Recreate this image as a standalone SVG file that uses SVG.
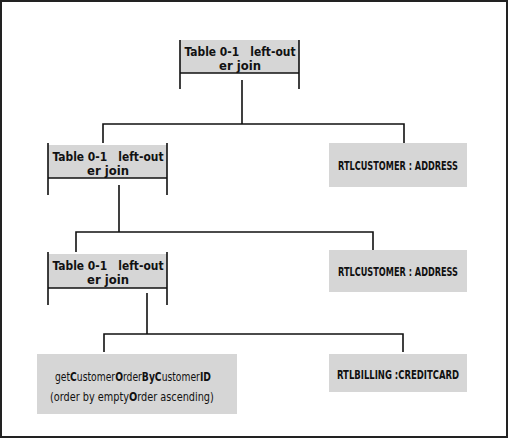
<svg xmlns="http://www.w3.org/2000/svg" width="508" height="438" viewBox="0 0 508 438">
<style>
.box{fill:#d6d6d6;stroke:none}
.ln{stroke:#111;stroke-width:1.6;fill:none}
.t{font-family:"DejaVu Sans","Liberation Sans",sans-serif;font-stretch:condensed;font-size:12px;font-weight:bold;fill:#111;text-anchor:middle}
.n{font-family:"DejaVu Sans","Liberation Sans",sans-serif;font-stretch:condensed;font-size:11.5px;fill:#111}
.b{font-weight:bold}
</style>
<rect x="1" y="1" width="506" height="436" fill="#fff" stroke="#222" stroke-width="2"/>
<g id="connectors">
<path class="ln" d="M242 80V124M103 143V124H404V143"/>
<path class="ln" d="M119 185V232M76 252V232H373V250"/>
<path class="ln" d="M147 293V334M104 352V334H403V352"/>
</g>
<g id="join1">
<rect class="box" x="180" y="40" width="119" height="33"/>
<path class="ln" d="M180 40V89M299 40V89M180 73H299"/>
<text class="t" x="240" y="56" xml:space="preserve" textLength="111" lengthAdjust="spacingAndGlyphs">Table 0-1   left-out</text>
<text class="t" x="240" y="70" textLength="42" lengthAdjust="spacingAndGlyphs">er join</text>
</g>
<g id="join2">
<rect class="box" x="48" y="145" width="119" height="33"/>
<path class="ln" d="M48 143V195M167 143V195M48 178H167"/>
<text class="t" x="108" y="161" xml:space="preserve" textLength="111" lengthAdjust="spacingAndGlyphs">Table 0-1   left-out</text>
<text class="t" x="108" y="175" textLength="42" lengthAdjust="spacingAndGlyphs">er join</text>
</g>
<g id="join3">
<rect class="box" x="48" y="254" width="119" height="34"/>
<path class="ln" d="M48 252V305M167 252V305M48 288H167"/>
<text class="t" x="108" y="270" xml:space="preserve" textLength="111" lengthAdjust="spacingAndGlyphs">Table 0-1   left-out</text>
<text class="t" x="108" y="284" textLength="42" lengthAdjust="spacingAndGlyphs">er join</text>
</g>
<g id="address1">
<rect class="box" x="329" y="143" width="138" height="44"/>
<text class="t" x="398" y="170" textLength="120" lengthAdjust="spacingAndGlyphs">RTLCUSTOMER : ADDRESS</text>
</g>
<g id="address2">
<rect class="box" x="329" y="250" width="138" height="42"/>
<text class="t" x="398" y="276" textLength="120" lengthAdjust="spacingAndGlyphs">RTLCUSTOMER : ADDRESS</text>
</g>
<g id="getorder">
<rect class="box" x="37" y="354" width="200" height="60"/>
<text class="n" transform="translate(55,381) scale(0.89,1)">get<tspan class="b">C</tspan>ustomer<tspan class="b">O</tspan>rder<tspan class="b">ByC</tspan>ustomer<tspan class="b">ID</tspan></text>
<text class="n" transform="translate(50,401) scale(0.94,1)">(order by empty<tspan class="b">O</tspan>rder ascending)</text>
</g>
<g id="billing">
<rect class="box" x="329" y="354" width="138" height="38"/>
<text class="t" x="398" y="379" textLength="122" lengthAdjust="spacingAndGlyphs">RTLBILLING :CREDITCARD</text>
</g>
</svg>
